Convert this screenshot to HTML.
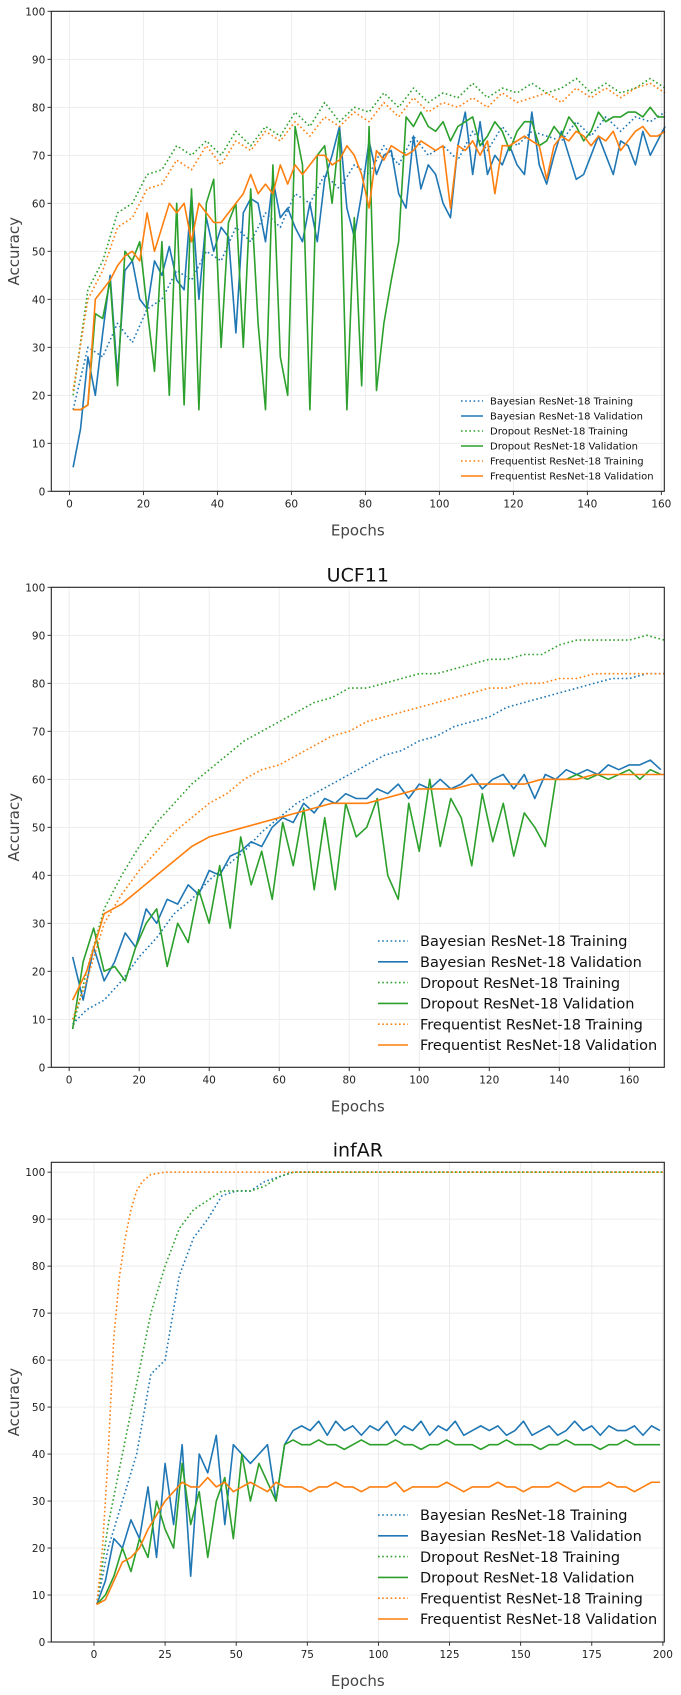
<!DOCTYPE html>
<html><head><meta charset="utf-8"><title>Accuracy curves</title>
<style>
html,body{margin:0;padding:0;background:#fff;}
svg{display:block;font-family:"DejaVu Sans","Liberation Sans",sans-serif;}
</style></head>
<body>
<svg id="chart" width="681" height="1695" viewBox="0 0 681 1695" xmlns="http://www.w3.org/2000/svg"></svg>
<script>
// ---------- Panel 1 data ----------
const p1ValEpochs = [1,3,5,7,9,11,13,15,17,19,21,23,25,27,29,31,33,35,37,39,41,43,45,47,49,51,53,55,57,59,61,63,65,67,69,71,73,75,77,79,81,83,85,87,89,91,93,95,97,99,101,103,105,107,109,111,113,115,117,119,121,123,125,127,129,131,133,135,137,139,141,143,145,147,149,151,153,155,157,159,161];
const p1TrainEpochs = [1,5,9,13,17,21,25,29,33,37,41,45,49,53,57,61,65,69,73,77,81,85,89,93,97,101,105,109,113,117,121,125,129,133,137,141,145,149,153,157,161];
const p1BayesVal = [5,13,28,20,33,45,24,46,48,40,38,48,45,51,44,42,62,40,57,50,55,53,33,58,61,60,52,65,57,59,55,52,60,52,65,70,76,59,53,62,73,66,70,71,62,59,74,63,68,66,60,57,72,79,66,77,66,70,68,72,68,66,79,68,64,70,75,70,65,66,70,74,70,66,73,72,68,75,70,73,76];
const p1DropVal = [17,17,18,37,36,44,22,50,48,52,38,25,52,20,60,18,63,17,60,65,30,56,60,30,63,35,17,68,28,20,76,68,17,70,72,60,75,17,57,22,76,21,35,44,52,78,76,79,76,75,77,73,76,77,78,72,74,77,75,71,75,77,77,72,73,76,74,78,76,73,75,79,77,78,78,79,79,78,80,78,78];
const p1FreqVal = [17,17,18,40,42,44,47,49,50,48,58,50,55,60,58,60,52,60,58,56,56,58,60,62,66,62,64,62,68,64,68,66,68,70,70,68,69,72,70,66,59,71,69,72,71,70,71,73,72,71,72,59,72,71,73,70,73,62,72,72,73,74,73,72,65,72,74,73,75,74,72,74,73,75,71,73,75,76,74,74,75];
const p1BayesTrain = [17,30,28,35,31,38,40,46,44,50,48,55,52,58,55,62,60,66,63,68,66,72,68,74,70,72,69,75,71,76,72,75,74,73,77,74,78,75,78,77,79];
const p1DropTrain = [20,42,48,58,60,66,67,72,70,73,70,75,72,76,74,79,76,81,77,80,79,83,80,84,81,83,82,85,82,84,83,85,83,84,86,83,85,83,84,86,84];
const p1FreqTrain = [21,40,46,55,57,63,64,69,67,72,68,73,71,75,73,77,74,78,76,79,77,81,78,82,79,81,80,82,80,83,81,82,83,81,84,82,84,82,84,85,83];
const p1XTicks = [0,20,40,60,80,100,120,140,160];
const yTicks = [0,10,20,30,40,50,60,70,80,90,100];

// ---------- Panel 2 data (UCF11) ----------
const p2SmoothEpochs = [1,5,10,15,20,25,30,35,40,45,50,55,60,65,70,75,80,85,90,95,100,105,110,115,120,125,130,135,140,145,150,155,160,165,170];
const p2NoisyEpochs = [1,4,7,10,13,16,19,22,25,28,31,34,37,40,43,46,49,52,55,58,61,64,67,70,73,76,79,82,85,88,91,94,97,100,103,106,109,112,115,118,121,124,127,130,133,136,139,142,145,148,151,154,157,160,163,166,169];
const p2BayesTrain = [9,12,14,18,23,27,32,35,39,42,45,49,52,55,57,59,61,63,65,66,68,69,71,72,73,75,76,77,78,79,80,81,81,82,82];
const p2DropTrain = [8,20,33,40,46,51,55,59,62,65,68,70,72,74,76,77,79,79,80,81,82,82,83,84,85,85,86,86,88,89,89,89,89,90,89];
const p2FreqTrain = [10,18,30,36,41,45,49,52,55,57,60,62,63,65,67,69,70,72,73,74,75,76,77,78,79,79,80,80,81,81,82,82,82,82,82];
const p2FreqVal = [14,20,32,34,37,40,43,46,48,49,50,51,52,53,54,55,55,55,56,57,58,58,58,59,59,59,59,60,60,60,61,61,61,61,61];
const p2BayesVal = [23,14,25,18,22,28,25,33,30,35,34,38,36,41,40,44,45,47,46,50,52,51,55,53,56,55,57,56,56,58,57,59,56,59,58,60,58,59,61,58,60,61,58,61,56,61,60,62,61,62,61,63,62,63,63,64,62];
const p2DropVal = [8,22,29,20,21,18,25,30,33,21,30,26,37,30,42,29,48,38,45,35,51,42,54,37,52,37,55,48,50,56,40,35,55,45,60,46,56,52,42,57,47,55,44,53,50,46,60,60,61,60,61,60,61,62,60,62,61];
const p2XTicks = [0,20,40,60,80,100,120,140,160];

// ---------- Panel 3 data (infAR) ----------
const p3FreqTrainEpochs = [1,3,5,7,9,11,13,15,17,20,25,30,40,60,80,100,120,140,160,180,200];
const p3FreqTrain = [8,20,40,65,78,86,92,96,98,99.5,100,100,100,100,100,100,100,100,100,100,100];
const p3TrainEpochs = [1,5,10,15,20,25,30,35,40,45,50,55,60,65,70,80,100,120,140,160,180,200];
const p3DropTrain = [8,25,40,55,70,80,88,92,94,96,96,96,97,99,100,100,100,100,100,100,100,100];
const p3BayesTrain = [8,20,30,40,57,60,78,86,90,95,96,96,98,99,100,100,100,100,100,100,100,100];
const p3ValEpochs = [1,4,7,10,13,16,19,22,25,28,31,34,37,40,43,46,49,52,55,58,61,64,67,70,73,76,79,82,85,88,91,94,97,100,103,106,109,112,115,118,121,124,127,130,133,136,139,142,145,148,151,154,157,160,163,166,169,172,175,178,181,184,187,190,193,196,199];
const p3BayesVal = [8,13,22,20,26,22,33,18,38,25,42,14,40,36,44,25,42,40,38,40,42,30,42,45,46,45,47,44,47,45,46,44,46,45,47,44,46,45,47,44,46,45,47,44,45,46,45,46,44,45,47,44,45,46,44,45,47,45,46,44,46,45,45,46,44,46,45];
const p3DropVal = [8,10,14,20,15,22,18,30,24,20,38,25,32,18,30,35,22,40,30,38,34,30,42,43,42,42,43,42,42,41,42,43,42,42,42,43,42,42,41,42,42,43,42,42,42,41,42,42,43,42,42,42,41,42,42,43,42,42,42,41,42,42,43,42,42,42,42];
const p3FreqVal = [8,9,13,17,18,20,24,27,30,32,34,33,33,35,33,34,32,33,34,33,32,34,33,33,33,32,33,33,34,33,33,32,33,33,33,34,32,33,33,33,33,34,33,32,33,33,33,34,33,33,32,33,33,33,34,33,32,33,33,33,34,33,33,32,33,34,34];
const p3XTicks = [0,25,50,75,100,125,150,175,200];

const BLUE = "#1f77b4", GREEN = "#2ca02c", ORANGE = "#ff7f0e";
const NS = "http://www.w3.org/2000/svg";
const svg = document.getElementById("chart");

function mk(tag, attrs, parent) {
  const el = document.createElementNS(NS, tag);
  for (const k in attrs) el.setAttribute(k, attrs[k]);
  (parent || svg).appendChild(el);
  return el;
}

function drawPanel(p) {
  const g = mk("g", {});
  
  
  const L = 51.3, R = 664.3;
  const sx = v => L + (v - p.xmin) / (p.xmax - p.xmin) * (R - L);
  const sy = v => p.bottom - (v - p.ymin) / (p.ymax - p.ymin) * (p.bottom - p.top);
  p.xticks.forEach(t => {
    const l = mk("line", {x1: sx(t), x2: sx(t), y1: p.top, y2: p.bottom, stroke: "#ebebeb", "stroke-width": 0.9}, g);
    
    
  });
  yTicks.forEach(t => {
    const l = mk("line", {x1: L, x2: R, y1: sy(t), y2: sy(t), stroke: "#ebebeb", "stroke-width": 0.9}, g);
    
    
  });
  p.series.forEach(s => {
    const d = s.x.map((x, i) => (i ? "L" : "M") + sx(x).toFixed(2) + "," + sy(s.y[i]).toFixed(2)).join("");
    const path = mk("path", {d: d, fill: "none", stroke: s.color, "stroke-width": 1.6, "stroke-linejoin": "round",
      "stroke-dasharray": s.dotted ? "1.6,2.6" : "none"}, g);
    
    
  });
  const frame = mk("rect", {x: L, y: p.top, width: R - L, height: p.bottom - p.top, fill: "none", stroke: "#222", "stroke-width": 1.1}, g);
  
  
  p.xticks.forEach(t => {
    mk("line", {x1: sx(t), x2: sx(t), y1: p.bottom, y2: p.bottom + 3.8, stroke: "#222", "stroke-width": 0.9}, g);
    const tx = mk("text", {x: sx(t), y: p.bottom + 16, "text-anchor": "middle", "font-size": 10.5, fill: "#222"}, g);
    tx.textContent = t;
    
    
  });
  yTicks.forEach(t => {
    mk("line", {x1: L - 3.8, x2: L, y1: sy(t), y2: sy(t), stroke: "#222", "stroke-width": 0.9}, g);
    const tx = mk("text", {x: L - 6, y: sy(t) + 4, "text-anchor": "end", "font-size": 10.5, fill: "#222"}, g);
    tx.textContent = t;
    
    
  });
  const xl = mk("text", {x: (L + R) / 2, y: p.bottom + 44, "text-anchor": "middle", "font-size": 15, fill: "#444"}, g);
  xl.textContent = "Epochs";
  
  
  const cy = (p.top + p.bottom) / 2;
  const yl = mk("text", {x: 19, y: cy, "text-anchor": "middle", "font-size": 15, fill: "#444", transform: "rotate(-90 19 " + cy + ")"}, g);
  yl.textContent = "Accuracy";
  
  
  if (p.title) {
    const tt = mk("text", {x: (L + R) / 2, y: p.top - 6, "text-anchor": "middle", "font-size": 19, fill: "#111"}, g);
    tt.textContent = p.title;
    
    
  }
  const lg = mk("g", {}, g);
  
  
  p.series.forEach((s, i) => {
    const yy = p.leg.y0 + i * p.leg.dy;
    const e = mk("g", {}, lg);
    
    
    mk("line", {x1: p.leg.x0, x2: p.leg.x0 + p.leg.len, y1: yy, y2: yy, stroke: s.color, "stroke-width": 1.6,
      "stroke-dasharray": s.dotted ? "1.6,2.6" : "none"}, e);
    const t = mk("text", {x: p.leg.tx, y: yy + p.leg.fs * 0.36, "font-size": p.leg.fs, fill: "#111"}, e);
    t.textContent = s.label;
  });
}

const labels = ["Bayesian ResNet-18 Training","Bayesian ResNet-18 Validation","Dropout ResNet-18 Training","Dropout ResNet-18 Validation","Frequentist ResNet-18 Training","Frequentist ResNet-18 Validation"];

drawPanel({name: "panel-cifar", title: "", xmin: -4.9, xmax: 160.8, ymin: 0, ymax: 100, top: 11.3, bottom: 491.3,
  xticks: p1XTicks, leg: {x0: 461, len: 22, tx: 490, y0: 401, dy: 15, fs: 10},
  series: [
    {key: "bayes-train-line", label: labels[0], color: BLUE, dotted: true, x: p1TrainEpochs, y: p1BayesTrain},
    {key: "bayes-val-line", label: labels[1], color: BLUE, dotted: false, x: p1ValEpochs, y: p1BayesVal},
    {key: "dropout-train-line", label: labels[2], color: GREEN, dotted: true, x: p1TrainEpochs, y: p1DropTrain},
    {key: "dropout-val-line", label: labels[3], color: GREEN, dotted: false, x: p1ValEpochs, y: p1DropVal},
    {key: "freq-train-line", label: labels[4], color: ORANGE, dotted: true, x: p1TrainEpochs, y: p1FreqTrain},
    {key: "freq-val-line", label: labels[5], color: ORANGE, dotted: false, x: p1ValEpochs, y: p1FreqVal}
  ]});

drawPanel({name: "panel-ucf11", title: "UCF11", xmin: -5.1, xmax: 170, ymin: 0, ymax: 100, top: 587.3, bottom: 1067.3,
  xticks: p2XTicks, leg: {x0: 378, len: 30, tx: 420, y0: 941, dy: 20.8, fs: 14.5},
  series: [
    {key: "bayes-train-line", label: labels[0], color: BLUE, dotted: true, x: p2SmoothEpochs, y: p2BayesTrain},
    {key: "bayes-val-line", label: labels[1], color: BLUE, dotted: false, x: p2NoisyEpochs, y: p2BayesVal},
    {key: "dropout-train-line", label: labels[2], color: GREEN, dotted: true, x: p2SmoothEpochs, y: p2DropTrain},
    {key: "dropout-val-line", label: labels[3], color: GREEN, dotted: false, x: p2NoisyEpochs, y: p2DropVal},
    {key: "freq-train-line", label: labels[4], color: ORANGE, dotted: true, x: p2SmoothEpochs, y: p2FreqTrain},
    {key: "freq-val-line", label: labels[5], color: ORANGE, dotted: false, x: p2SmoothEpochs, y: p2FreqVal}
  ]});

drawPanel({name: "panel-infar", title: "infAR", xmin: -15, xmax: 200.5, ymin: 0, ymax: 102.1, top: 1162.3, bottom: 1642,
  xticks: p3XTicks, leg: {x0: 378, len: 30, tx: 420, y0: 1515, dy: 20.8, fs: 14.5},
  series: [
    {key: "bayes-train-line", label: labels[0], color: BLUE, dotted: true, x: p3TrainEpochs, y: p3BayesTrain},
    {key: "bayes-val-line", label: labels[1], color: BLUE, dotted: false, x: p3ValEpochs, y: p3BayesVal},
    {key: "dropout-train-line", label: labels[2], color: GREEN, dotted: true, x: p3TrainEpochs, y: p3DropTrain},
    {key: "dropout-val-line", label: labels[3], color: GREEN, dotted: false, x: p3ValEpochs, y: p3DropVal},
    {key: "freq-train-line", label: labels[4], color: ORANGE, dotted: true, x: p3FreqTrainEpochs, y: p3FreqTrain},
    {key: "freq-val-line", label: labels[5], color: ORANGE, dotted: false, x: p3ValEpochs, y: p3FreqVal}
  ]});
</script>
</body></html>
